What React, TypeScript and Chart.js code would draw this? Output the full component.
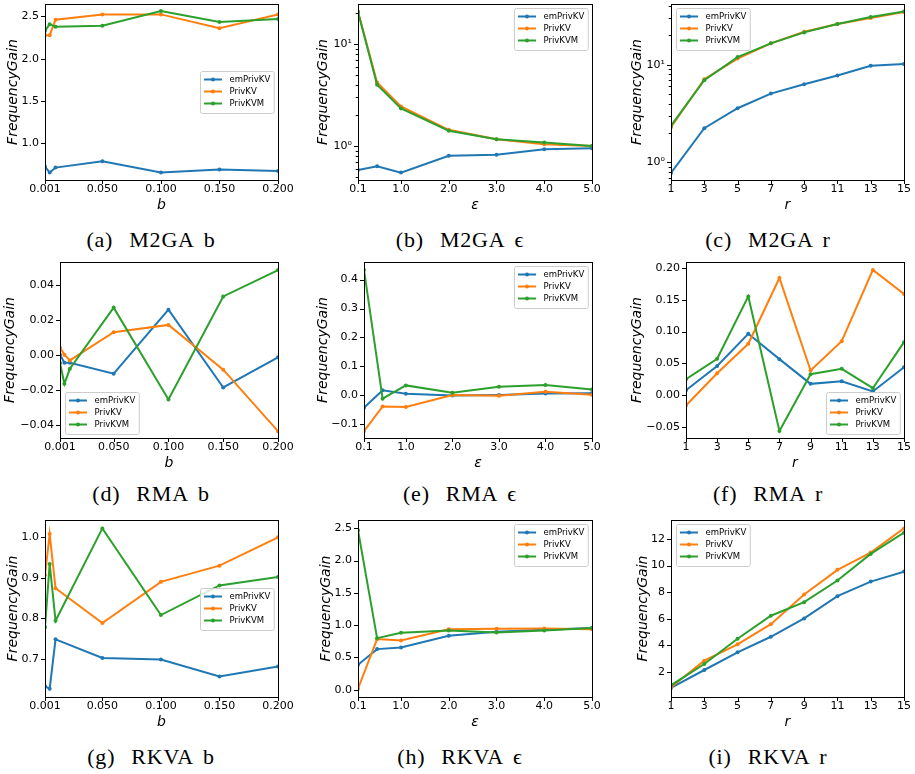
import React, { useEffect, useRef } from 'react';
import { Chart, registerables } from 'chart.js';
Chart.register(...registerables);

// ---------------- data ----------------
const seriesNames = ['emPrivKV', 'PrivKV', 'PrivKVM'];
const seriesColors = ['#1f77b4', '#ff7f0e', '#2ca02c'];

const bValues = [0.001, 0.005, 0.01, 0.05, 0.1, 0.15, 0.2];
const epsValues = [0.1, 0.5, 1.0, 2.0, 3.0, 4.0, 5.0];
const rValues = [1, 3, 5, 7, 9, 11, 13, 15];

const bTicks = [0.001, 0.05, 0.1, 0.15, 0.2];
const epsTicks = [0.1, 1, 2, 3, 4, 5];
const rTicks = [1, 3, 5, 7, 9, 11, 13, 15];
const bRange = [0.001, 0.2];
const epsRange = [0.1, 5.0];
const rRange = [1, 15];

// M2GA
const m2gaB_emPrivKV = [0.722, 0.651, 0.71, 0.786, 0.651, 0.687, 0.671];
const m2gaB_PrivKV = [2.278, 2.278, 2.46, 2.524, 2.524, 2.361, 2.524];
const m2gaB_PrivKVM = [2.329, 2.408, 2.377, 2.389, 2.563, 2.433, 2.468];
const m2gaB_yTicks = [1.0, 1.5, 2.0, 2.5];
const m2gaB_yRange = [0.563, 2.647];

const m2gaEps_emPrivKV = [0.58, 0.63, 0.547, 0.8, 0.82, 0.93, 0.95];
const m2gaEps_PrivKV = [20.7, 4.2, 2.44, 1.44, 1.16, 1.04, 1.0];
const m2gaEps_PrivKVM = [20.7, 3.98, 2.33, 1.41, 1.16, 1.08, 1.0];
const m2gaEps_yTicks = [1, 10];
const m2gaEps_yRange = [0.463, 24.7];

const m2gaR_emPrivKV = [0.78, 2.24, 3.59, 5.07, 6.33, 7.77, 9.77, 10.2];
const m2gaR_PrivKV = [2.29, 7.13, 11.6, 16.6, 21.8, 26.2, 30.1, 34.8];
const m2gaR_PrivKVM = [2.38, 6.96, 12.0, 16.6, 21.5, 26.2, 30.9, 35.1];
const m2gaR_yTicks = [1, 10];
const m2gaR_yRange = [0.66, 42];

// RMA
const rmaB_emPrivKV = [0.0004, -0.0042, -0.0042, -0.0105, 0.0261, -0.0184, -0.0011];
const rmaB_PrivKV = [0.0044, 0.0004, -0.0029, 0.0132, 0.0174, -0.0082, -0.0434];
const rmaB_PrivKVM = [-0.0044, -0.0163, -0.0077, 0.0273, -0.0253, 0.0337, 0.0488];
const rmaB_yTicks = [-0.04, -0.02, 0, 0.02, 0.04];
const rmaB_yRange = [-0.0473, 0.0534];

const rmaEps_emPrivKV = [-0.043, 0.017, 0.005, -0.001, 0.001, 0.006, 0.007];
const rmaEps_PrivKV = [-0.124, -0.039, -0.041, 0.001, -0.002, 0.012, 0.002];
const rmaEps_PrivKVM = [0.434, -0.012, 0.034, 0.009, 0.029, 0.035, 0.02];
const rmaEps_yTicks = [-0.1, 0, 0.1, 0.2, 0.3, 0.4];
const rmaEps_yRange = [-0.148, 0.461];

const rmaR_emPrivKV = [0.0079, 0.046, 0.0965, 0.0567, 0.0178, 0.022, 0.0058, 0.044];
const rmaR_PrivKV = [-0.0163, 0.0346, 0.0808, 0.1842, 0.0388, 0.085, 0.197, 0.159];
const rmaR_PrivKVM = [0.0252, 0.0572, 0.1553, -0.0561, 0.033, 0.0414, 0.011, 0.0834];
const rmaR_yTicks = [-0.05, 0, 0.05, 0.1, 0.15, 0.2];
const rmaR_yRange = [-0.0673, 0.2094];

// RKVA
const rkvaB_emPrivKV = [0.632, 0.626, 0.748, 0.702, 0.698, 0.656, 0.681];
const rkvaB_PrivKV = [0.907, 1.008, 0.874, 0.788, 0.89, 0.93, 1.0];
const rkvaB_PrivKVM = [0.778, 0.934, 0.794, 1.022, 0.808, 0.881, 0.902];
const rkvaB_yTicks = [0.7, 0.8, 0.9, 1.0];
const rkvaB_yRange = [0.6055, 1.0427];

const rkvaEps_emPrivKV = [0.387, 0.629, 0.655, 0.835, 0.897, 0.928, 0.955];
const rkvaEps_PrivKV = [0.015, 0.784, 0.763, 0.938, 0.943, 0.948, 0.938];
const rkvaEps_PrivKVM = [2.47, 0.799, 0.881, 0.918, 0.887, 0.918, 0.954];
const rkvaEps_yTicks = [0, 0.5, 1.0, 1.5, 2.0, 2.5];
const rkvaEps_yRange = [-0.113, 2.629];

const rkvaR_emPrivKV = [0.8, 2.15, 3.48, 4.65, 6.03, 7.7, 8.8, 9.55];
const rkvaR_PrivKV = [0.85, 2.85, 4.08, 5.6, 7.83, 9.68, 10.98, 12.8];
const rkvaR_PrivKVM = [1.0, 2.6, 4.5, 6.23, 7.25, 8.88, 10.88, 12.48];
const rkvaR_yTicks = [2, 4, 6, 8, 10, 12];
const rkvaR_yRange = [0.12, 13.43];

const captionLabels = ['(a)', '(b)', '(c)', '(d)', '(e)', '(f)', '(g)', '(h)', '(i)'];
const captionNames = ['M2GA', 'M2GA', 'M2GA', 'RMA', 'RMA', 'RMA', 'RKVA', 'RKVA', 'RKVA'];
const captionParams = ['b', '\u03F5', 'r', 'b', '\u03F5', 'r', 'b', '\u03F5', 'r'];

// ---------------- panel definitions ----------------
const PANELS = [
  { xs: bValues, series: [m2gaB_emPrivKV, m2gaB_PrivKV, m2gaB_PrivKVM], xTicks: bTicks, xDec: 3, xRange: bRange, yTicks: m2gaB_yTicks, yDec: 1, yRange: m2gaB_yRange, log: false, xLabel: 'b', legend: 'center right' },
  { xs: epsValues, series: [m2gaEps_emPrivKV, m2gaEps_PrivKV, m2gaEps_PrivKVM], xTicks: epsTicks, xDec: 1, xRange: epsRange, yTicks: m2gaEps_yTicks, yDec: 0, yRange: m2gaEps_yRange, log: true, xLabel: '\u03B5', legend: 'upper right' },
  { xs: rValues, series: [m2gaR_emPrivKV, m2gaR_PrivKV, m2gaR_PrivKVM], xTicks: rTicks, xDec: 0, xRange: rRange, yTicks: m2gaR_yTicks, yDec: 0, yRange: m2gaR_yRange, log: true, xLabel: 'r', legend: 'upper left' },
  { xs: bValues, series: [rmaB_emPrivKV, rmaB_PrivKV, rmaB_PrivKVM], xTicks: bTicks, xDec: 3, xRange: bRange, yTicks: rmaB_yTicks, yDec: 2, yRange: rmaB_yRange, log: false, xLabel: 'b', legend: 'lower left' },
  { xs: epsValues, series: [rmaEps_emPrivKV, rmaEps_PrivKV, rmaEps_PrivKVM], xTicks: epsTicks, xDec: 1, xRange: epsRange, yTicks: rmaEps_yTicks, yDec: 1, yRange: rmaEps_yRange, log: false, xLabel: '\u03B5', legend: 'upper right' },
  { xs: rValues, series: [rmaR_emPrivKV, rmaR_PrivKV, rmaR_PrivKVM], xTicks: rTicks, xDec: 0, xRange: rRange, yTicks: rmaR_yTicks, yDec: 2, yRange: rmaR_yRange, log: false, xLabel: 'r', legend: 'lower right' },
  { xs: bValues, series: [rkvaB_emPrivKV, rkvaB_PrivKV, rkvaB_PrivKVM], xTicks: bTicks, xDec: 3, xRange: bRange, yTicks: rkvaB_yTicks, yDec: 1, yRange: rkvaB_yRange, log: false, xLabel: 'b', legend: 'center right' },
  { xs: epsValues, series: [rkvaEps_emPrivKV, rkvaEps_PrivKV, rkvaEps_PrivKVM], xTicks: epsTicks, xDec: 1, xRange: epsRange, yTicks: rkvaEps_yTicks, yDec: 1, yRange: rkvaEps_yRange, log: false, xLabel: '\u03B5', legend: 'upper right' },
  { xs: rValues, series: [rkvaR_emPrivKV, rkvaR_PrivKV, rkvaR_PrivKVM], xTicks: rTicks, xDec: 0, xRange: rRange, yTicks: rkvaR_yTicks, yDec: 0, yRange: rkvaR_yRange, log: false, xLabel: 'r', legend: 'upper left' },
];

// ---------------- layout (pixels) ----------------
const COL_X = [0, 305, 610];
const ROW_TOP = [0, 252, 508];
const CANVAS_W = 305;
const CANVAS_H = 224;
const ROW_PLOT_T = [4, 262, 520];
const ROW_PLOT_B = [180, 438, 697];
const ROW_XTITLE_Y = [205, 463, 722];
const PLOT_L = [45, 358, 671, 60, 364, 686, 45, 358, 671];
const PLOT_R = [278, 592, 904, 278, 592, 904, 278, 592, 904];
const YTITLE_X = [13, 18, 27, 10, 18, 27, 13, 21, 33];
const CAPTION_CX = [151, 460, 768];
const CAPTION_CY = [242, 496, 759];

const FONT = '"DejaVu Sans", sans-serif';
const SUP: Record<string, string> = { '0': '\u2070', '1': '\u00B9', '2': '\u00B2', '3': '\u00B3', '-': '\u207B' };

function fmt(v: number, dec: number) {
  return v.toFixed(dec).replace('-', '\u2212');
}

function logTickList(min: number, max: number) {
  const out: any[] = [];
  for (let e = Math.floor(Math.log10(min)); e <= Math.ceil(Math.log10(max)); e++) {
    for (let m = 1; m <= 9; m++) {
      const v = m * Math.pow(10, e);
      if (v >= min * 0.9999 && v <= max * 1.0001) out.push({ value: v, major: m === 1 });
    }
  }
  return out;
}

function makePlugin(p: any) {
  return {
    id: 'frameLegend',
    afterDraw(chart: any) {
      const { ctx, chartArea: a, scales } = chart;
      ctx.save();
      // ticks
      ctx.strokeStyle = '#000';
      ctx.lineWidth = 1;
      scales.x.ticks.forEach((t: any) => {
        const px = Math.round(scales.x.getPixelForValue(t.value)) + 0.5;
        const len = t.major ? 4 : 2.3;
        ctx.beginPath();
        ctx.moveTo(px, a.bottom);
        ctx.lineTo(px, a.bottom + len);
        ctx.stroke();
      });
      scales.y.ticks.forEach((t: any) => {
        const py = Math.round(scales.y.getPixelForValue(t.value)) + 0.5;
        const len = t.major ? 4 : 2.3;
        ctx.beginPath();
        ctx.moveTo(a.left, py);
        ctx.lineTo(a.left - len, py);
        ctx.stroke();
      });
      // frame
      ctx.strokeRect(a.left + 0.5, a.top + 0.5, a.right - a.left, a.bottom - a.top);

      // legend
      ctx.font = '8.5px ' + FONT;
      const textW = Math.max(...seriesNames.map((n) => ctx.measureText(n).width));
      const boxW = 29 + textW + 4;
      const boxH = 42;
      const pad = 4;
      let bx = 0;
      let by = 0;
      const [vpos, hpos] = p.legend.split(' ');
      bx = hpos === 'right' ? a.right - pad - boxW : a.left + pad + 1;
      if (vpos === 'upper') by = a.top + pad;
      else if (vpos === 'lower') by = a.bottom - pad - boxH;
      else by = (a.top + a.bottom) / 2 - boxH / 2;
      bx = Math.round(bx) + 0.5;
      by = Math.round(by) + 0.5;
      const r = 2;
      ctx.beginPath();
      ctx.moveTo(bx + r, by);
      ctx.lineTo(bx + boxW - r, by);
      ctx.arcTo(bx + boxW, by, bx + boxW, by + r, r);
      ctx.lineTo(bx + boxW, by + boxH - r);
      ctx.arcTo(bx + boxW, by + boxH, bx + boxW - r, by + boxH, r);
      ctx.lineTo(bx + r, by + boxH);
      ctx.arcTo(bx, by + boxH, bx, by + boxH - r, r);
      ctx.lineTo(bx, by + r);
      ctx.arcTo(bx, by, bx + r, by, r);
      ctx.closePath();
      ctx.fillStyle = 'rgba(255,255,255,0.8)';
      ctx.fill();
      ctx.strokeStyle = '#cccccc';
      ctx.lineWidth = 1;
      ctx.stroke();
      seriesNames.forEach((name, i) => {
        const cy = by + 8 + i * 12;
        ctx.strokeStyle = seriesColors[i];
        ctx.lineWidth = 2;
        ctx.beginPath();
        ctx.moveTo(bx + 3.5, cy);
        ctx.lineTo(bx + 21.5, cy);
        ctx.stroke();
        ctx.fillStyle = seriesColors[i];
        ctx.beginPath();
        ctx.arc(bx + 12.5, cy, 2, 0, Math.PI * 2);
        ctx.fill();
        ctx.fillStyle = '#000';
        ctx.textBaseline = 'middle';
        ctx.textAlign = 'left';
        ctx.fillText(name, bx + 29, cy);
      });
      ctx.restore();
    },
  };
}

function buildConfig(p: any, idx: number) {
  const row = Math.floor(idx / 3);
  const col = idx % 3;
  const colX = COL_X[col];
  const rowTop = ROW_TOP[row];
  const plotT = ROW_PLOT_T[row] - rowTop;
  const xScaleH = CANVAS_H - (ROW_PLOT_B[row] - rowTop);
  const xTitlePad = rowTop + CANVAS_H - ROW_XTITLE_Y[row] - 7;
  const yScaleW = PLOT_L[idx] - colX;
  const padRight = colX + CANVAS_W - PLOT_R[idx];
  const yTitlePad = YTITLE_X[idx] - 7;

  const datasets = p.series.map((ys: number[], i: number) => ({
    label: seriesNames[i],
    data: p.xs.map((x: number, j: number) => ({ x, y: ys[j] })),
    borderColor: seriesColors[i],
    backgroundColor: seriesColors[i],
    borderWidth: 2,
    pointRadius: 2,
    pointBorderWidth: 0,
    pointBackgroundColor: seriesColors[i],
    tension: 0,
    fill: false,
    order: 2 - i,
  }));

  const zeroPad = (s: any) => {
    s.paddingLeft = 0;
    s.paddingRight = 0;
    s.paddingTop = 0;
    s.paddingBottom = 0;
  };

  const tickFont = { family: FONT, size: 11 };
  const titleFont = { family: FONT, size: 14, style: 'italic' as const, lineHeight: 1 };

  return {
    type: 'line' as const,
    data: { datasets },
    options: {
      animation: false as const,
      responsive: false,
      devicePixelRatio: 1,
      events: [],
      layout: { padding: { top: plotT, right: padRight, left: 0, bottom: 0 } },
      plugins: { legend: { display: false }, tooltip: { enabled: false } },
      scales: {
        x: {
          type: 'linear' as const,
          min: p.xRange[0],
          max: p.xRange[1],
          bounds: 'data' as const,
          afterBuildTicks: (s: any) => {
            s.ticks = p.xTicks.map((v: number) => ({ value: v, major: true }));
          },
          afterFit: (s: any) => {
            s.height = xScaleH;
            zeroPad(s);
          },
          ticks: {
            autoSkip: false,
            maxRotation: 0,
            minRotation: 0,
            padding: 3,
            color: '#000',
            font: tickFont,
            callback: (v: any) => fmt(Number(v), p.xDec),
          },
          grid: { display: false, drawTicks: false, tickLength: 0 },
          border: { display: false },
          title: { display: true, text: p.xLabel, color: '#000', font: titleFont, padding: { top: 0, bottom: xTitlePad } },
        },
        y: {
          type: p.log ? ('logarithmic' as const) : ('linear' as const),
          min: p.yRange[0],
          max: p.yRange[1],
          bounds: 'data' as const,
          afterBuildTicks: (s: any) => {
            s.ticks = p.log
              ? logTickList(p.yRange[0], p.yRange[1])
              : p.yTicks.map((v: number) => ({ value: v, major: true }));
          },
          afterFit: (s: any) => {
            s.width = yScaleW;
            zeroPad(s);
          },
          ticks: {
            autoSkip: false,
            padding: 6,
            color: '#000',
            font: tickFont,
            callback: (v: any, i: number, ticks: any[]) => {
              if (p.log) {
                if (!ticks[i].major) return '';
                const e = String(Math.round(Math.log10(Number(v))));
                return '10' + e.split('').map((c) => SUP[c]).join('');
              }
              return fmt(Number(v), p.yDec);
            },
          },
          grid: { display: false, drawTicks: false, tickLength: 0 },
          border: { display: false },
          title: { display: true, text: 'FrequencyGain', color: '#000', font: titleFont, padding: { top: yTitlePad, bottom: 0 } },
        },
      },
    },
    plugins: [makePlugin(p)],
  };
}

function Panel({ idx }: { idx: number }) {
  const ref = useRef<HTMLCanvasElement | null>(null);
  useEffect(() => {
    const chart = new Chart(ref.current as HTMLCanvasElement, buildConfig(PANELS[idx], idx) as any);
    return () => chart.destroy();
  }, [idx]);
  const row = Math.floor(idx / 3);
  const col = idx % 3;
  return (
    <canvas
      ref={ref}
      width={CANVAS_W}
      height={CANVAS_H}
      style={{ position: 'absolute', left: COL_X[col], top: ROW_TOP[row], width: CANVAS_W, height: CANVAS_H }}
    />
  );
}

function Caption({ idx }: { idx: number }) {
  const row = Math.floor(idx / 3);
  const col = idx % 3;
  return (
    <div
      style={{
        position: 'absolute',
        left: CAPTION_CX[col],
        top: CAPTION_CY[row] - 14,
        transform: 'translateX(-50%)',
        display: 'flex',
        alignItems: 'baseline',
        fontFamily: '"Liberation Serif", serif',
        fontSize: 22,
        lineHeight: '24px',
        letterSpacing: '0.8px',
        color: '#000',
        whiteSpace: 'nowrap',
      }}
    >
      <span>{captionLabels[idx]}</span>
      <span style={{ marginLeft: 16 }}>{captionNames[idx]}</span>
      <span style={{ marginLeft: 9 }}>{captionParams[idx]}</span>
    </div>
  );
}

export default function App() {
  const ids = [0, 1, 2, 3, 4, 5, 6, 7, 8];
  return (
    <div style={{ position: 'absolute', left: 0, top: 0, width: 915, height: 774, background: '#fff', overflow: 'hidden' }}>
      {ids.map((i) => (
        <Panel key={'p' + i} idx={i} />
      ))}
      {ids.map((i) => (
        <Caption key={'c' + i} idx={i} />
      ))}
    </div>
  );
}
